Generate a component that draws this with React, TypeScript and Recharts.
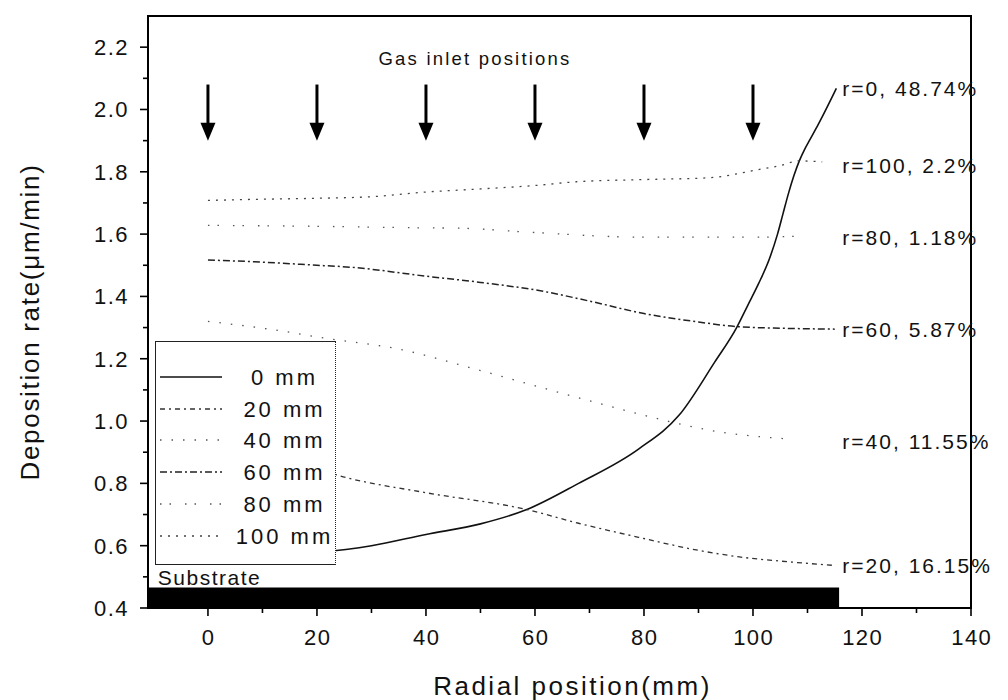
import React from 'react';
import {
  ComposedChart,
  Line,
  XAxis,
  YAxis,
  Scatter,
  ReferenceArea,
  ReferenceLine,
  Label,
} from 'recharts';

const FONT = '"Liberation Sans", Arial, Helvetica, sans-serif';

// ---------- axes ----------
const xDomain = [-11, 140];
const yDomain = [0.4, 2.3];
const xMajorTicks = [0, 20, 40, 60, 80, 100, 120, 140];
const xMinorTicks = [10, 30, 50, 70, 90, 110, 130];
const yMajorTicks = [0.4, 0.6, 0.8, 1.0, 1.2, 1.4, 1.6, 1.8, 2.0, 2.2];
const yMinorTicks = [0.5, 0.7, 0.9, 1.1, 1.3, 1.5, 1.7, 1.9, 2.1];

// ---------- series (radial position mm -> deposition rate µm/min) ----------
const seriesNames = ['0 mm', '20 mm', '40 mm', '60 mm', '80 mm', '100 mm'];

const r0X = [0, 10, 20, 30, 40, 50, 58.5, 68, 79, 86.5, 93, 97, 99, 101, 103, 104.5, 105.5, 106.5, 107.5, 108.5, 109.5, 110.5, 112, 115.3];
const r0Y = [0.56, 0.567, 0.578, 0.6, 0.636, 0.67, 0.716, 0.8, 0.91, 1.02, 1.19, 1.3, 1.37, 1.44, 1.52, 1.6, 1.665, 1.73, 1.787, 1.835, 1.873, 1.905, 1.953, 2.068];

const r20X = [0, 10, 20, 25.5, 40, 58.5, 68, 79, 90, 97.5, 106.7, 114.6];
const r20Y = [0.9, 0.875, 0.845, 0.818, 0.77, 0.716, 0.672, 0.627, 0.585, 0.564, 0.548, 0.537];

const r40X = [0, 15, 20, 35, 50, 65, 77.5, 88, 95, 100, 107];
const r40Y = [1.32, 1.285, 1.27, 1.231, 1.162, 1.089, 1.03, 0.985, 0.962, 0.952, 0.942];

const r60X = [0, 10, 20, 26, 40, 50, 61, 70, 80, 90, 97, 105, 115];
const r60Y = [1.517, 1.51, 1.5, 1.494, 1.465, 1.445, 1.418, 1.385, 1.345, 1.318, 1.303, 1.298, 1.295];

const r80X = [0, 20, 40, 46, 60, 80, 100, 108];
const r80Y = [1.628, 1.625, 1.62, 1.619, 1.605, 1.59, 1.59, 1.593];

const r100X = [0, 10, 20, 30, 40, 50, 60, 67.6, 80, 92, 101, 105, 108.5, 112.7];
const r100Y = [1.708, 1.712, 1.715, 1.72, 1.735, 1.745, 1.756, 1.768, 1.775, 1.781, 1.807, 1.82, 1.835, 1.832];

// ---------- annotations ----------
const inletX = [0, 20, 40, 60, 80, 100];
const inletTop = 2.08;
const inletHeadBase = 1.955;
const inletTip = 1.9;

const curveLabelText = ['r=0, 48.74%', 'r=100, 2.2%', 'r=80, 1.18%', 'r=60, 5.87%', 'r=40, 11.55%', 'r=20, 16.15%'];
const curveLabelY = [2.068, 1.819, 1.59, 1.293, 0.933, 0.537];
const curveLabelX = 116.4;

const titleText = ['Gas inlet positions'];
const titleX = [49];
const titleY = [2.165];

const substrateText = ['Substrate'];
const substrateLabelX = [-9.2];
const substrateLabelY = [0.47];
const substrateEnd = 115.8;
const substrateTop = 0.466;

// ---------- build ----------
const zip = (xs: number[], ys: number[]) => xs.map((x, i) => ({ x, y: ys[i] }));

const seriesStyles = [
  { stroke: '#111', dash: undefined as string | undefined, width: 1.6 },
  { stroke: '#333', dash: '5 4 2 4', width: 1.3 },
  { stroke: '#555', dash: '1.5 10', width: 1.3 },
  { stroke: '#222', dash: '7 3 2 3', width: 1.5 },
  { stroke: '#555', dash: '1.5 8 1.5 14', width: 1.3 },
  { stroke: '#444', dash: '2 6', width: 1.3 },
];

const seriesData = [
  zip(r0X, r0Y),
  zip(r20X, r20Y),
  zip(r40X, r40Y),
  zip(r60X, r60Y),
  zip(r80X, r80Y),
  zip(r100X, r100Y),
];

const inletData = inletX.map((x) => ({ x, y: inletTip }));
const curveLabelData = curveLabelText.map((text, i) => ({ x: curveLabelX, y: curveLabelY[i], text }));
const titleData = titleText.map((text, i) => ({ x: titleX[i], y: titleY[i], text }));
const substrateLabelData = substrateText.map((text, i) => ({ x: substrateLabelX[i], y: substrateLabelY[i], text }));

const allXTicks = [...xMajorTicks, ...xMinorTicks].sort((a, b) => a - b);
const allYTicks = [...yMajorTicks, ...yMinorTicks].sort((a, b) => a - b);
const isYMajor = (v: number) => yMajorTicks.some((t) => Math.abs(t - v) < 1e-6);

const XTick = (props: any) => {
  const { x, y, payload } = props;
  const v = payload.value as number;
  const major = xMajorTicks.includes(v);
  return (
    <g>
      <line x1={x} y1={y} x2={x} y2={y + (major ? 8 : 5)} stroke="#000" strokeWidth={1.6} />
      {major && (
        <text x={x + 0.75} y={y + 37} textAnchor="middle" fontFamily={FONT} fontSize={22} letterSpacing={1.5} fill="#111">
          {v}
        </text>
      )}
    </g>
  );
};

const YTick = (props: any) => {
  const { x, y, payload } = props;
  const v = payload.value as number;
  const major = isYMajor(v);
  return (
    <g>
      <line x1={x - (major ? 8 : 5)} y1={y} x2={x} y2={y} stroke="#000" strokeWidth={1.6} />
      {major && (
        <text x={x - 19} y={y} dy="0.36em" textAnchor="end" fontFamily={FONT} fontSize={22} letterSpacing={1.5} fill="#111">
          {v.toFixed(1)}
        </text>
      )}
    </g>
  );
};

const ArrowHead = (p: any) => (
  <polygon
    points={`${p.cx - 7.5},${p.cy - 18} ${p.cx + 7.5},${p.cy - 18} ${p.cx},${p.cy}`}
    fill="#000"
  />
);

const makeTextShape = (fontSize: number, spacing: number, anchor: 'start' | 'middle') => (p: any) => (
  <text
    x={p.cx}
    y={p.cy}
    dy="0.36em"
    textAnchor={anchor}
    fontFamily={FONT}
    fontSize={fontSize}
    letterSpacing={spacing}
    fill="#111"
  >
    {p.payload.text}
  </text>
);

const SubstrateShape = (p: any) => (
  <text x={p.cx} y={p.cy} dy={-1} textAnchor="start" fontFamily={FONT} fontSize={21} letterSpacing={1.5} fill="#111">
    {p.payload.text}
  </text>
);

const XTitle = (props: any) => {
  const vb = props.viewBox || {};
  const cx = vb.x + vb.width / 2 + 13;
  const y = vb.y + 87;
  return (
    <text x={cx} y={y} textAnchor="middle" fontFamily={FONT} fontSize={26} letterSpacing={2.5} fill="#111">
      Radial position(mm)
    </text>
  );
};

const YTitle = (props: any) => {
  const vb = props.viewBox || {};
  const cx = vb.x + 22;
  const cy = vb.y + vb.height / 2 + 10;
  return (
    <text
      x={cx}
      y={cy}
      dy="0.36em"
      transform={`rotate(-90, ${cx}, ${cy})`}
      textAnchor="middle"
      fontFamily={FONT}
      fontSize={26}
      letterSpacing={1.7}
      fill="#111"
    >
      Deposition rate(μm/min)
    </text>
  );
};

const LegendBox = () => {
  const rowY = [36, 68, 99, 131, 163, 195];
  return (
    <div
      style={{
        position: 'absolute',
        left: 147,
        top: 333,
        width: 181,
        height: 224,
        background: '#fff',
        border: '1.5px solid #222',
        borderRightStyle: 'dotted',
        boxSizing: 'border-box',
      }}
    >
      <svg width={181} height={224} style={{ display: 'block', position: 'absolute', left: -1.5, top: -1.5 }}>
        {seriesNames.map((name, i) => (
          <g key={name}>
            <line
              x1={5}
              x2={67}
              y1={rowY[i]}
              y2={rowY[i]}
              stroke={seriesStyles[i].stroke}
              strokeWidth={seriesStyles[i].width}
              strokeDasharray={seriesStyles[i].dash}
            />
            <text
              x={129.5}
              y={rowY[i]}
              dy="0.36em"
              textAnchor="middle"
              fontFamily={FONT}
              fontSize={22}
              letterSpacing={3}
              fill="#111"
            >
              {name}
            </text>
          </g>
        ))}
      </svg>
    </div>
  );
};

export default function App() {
  return (
    <div style={{ position: 'relative', width: 1000, height: 692, background: '#fff' }}>
      <ComposedChart width={1000} height={692} margin={{ top: 8, right: 37, bottom: 0, left: 0 }}>
        <XAxis
          type="number"
          dataKey="x"
          domain={xDomain}
          ticks={allXTicks}
          interval={0}
          height={92}
          tickSize={0}
          tickMargin={0}
          tickLine={false}
          axisLine={false}
          tick={<XTick />}
        >
          <Label content={<XTitle />} />
        </XAxis>
        <YAxis
          type="number"
          dataKey="y"
          domain={yDomain}
          ticks={allYTicks}
          interval={0}
          width={140}
          tickSize={0}
          tickMargin={0}
          tickLine={false}
          axisLine={false}
          tick={<YTick />}
        >
          <Label content={<YTitle />} />
        </YAxis>

        <ReferenceArea
          x1={xDomain[0]}
          x2={substrateEnd}
          y1={yDomain[0]}
          y2={substrateTop}
          fill="#000"
          fillOpacity={1}
          stroke="none"
        />

        {seriesData.map((d, i) => (
          <Line
            key={seriesNames[i]}
            data={d}
            dataKey="y"
            name={seriesNames[i]}
            type="monotone"
            stroke={seriesStyles[i].stroke}
            strokeWidth={seriesStyles[i].width}
            strokeDasharray={seriesStyles[i].dash}
            dot={false}
            activeDot={false}
            isAnimationActive={false}
          />
        ))}

        {inletX.map((x) => (
          <ReferenceLine
            key={`shaft-${x}`}
            segment={[
              { x, y: inletTop },
              { x, y: inletHeadBase },
            ]}
            stroke="#000"
            strokeWidth={3}
          />
        ))}
        <Scatter data={inletData} dataKey="y" shape={<ArrowHead />} isAnimationActive={false} />
        <Scatter data={curveLabelData} dataKey="y" shape={makeTextShape(21, 2, 'start')} isAnimationActive={false} />
        <Scatter data={titleData} dataKey="y" shape={makeTextShape(18.5, 2.2, 'middle')} isAnimationActive={false} />
        <Scatter data={substrateLabelData} dataKey="y" shape={<SubstrateShape />} isAnimationActive={false} />

        <ReferenceArea
          x1={xDomain[0]}
          x2={xDomain[1]}
          y1={yDomain[0]}
          y2={yDomain[1]}
          fill="none"
          fillOpacity={0}
          stroke="#000"
          strokeWidth={2}
        />
      </ComposedChart>
      <LegendBox />
    </div>
  );
}
